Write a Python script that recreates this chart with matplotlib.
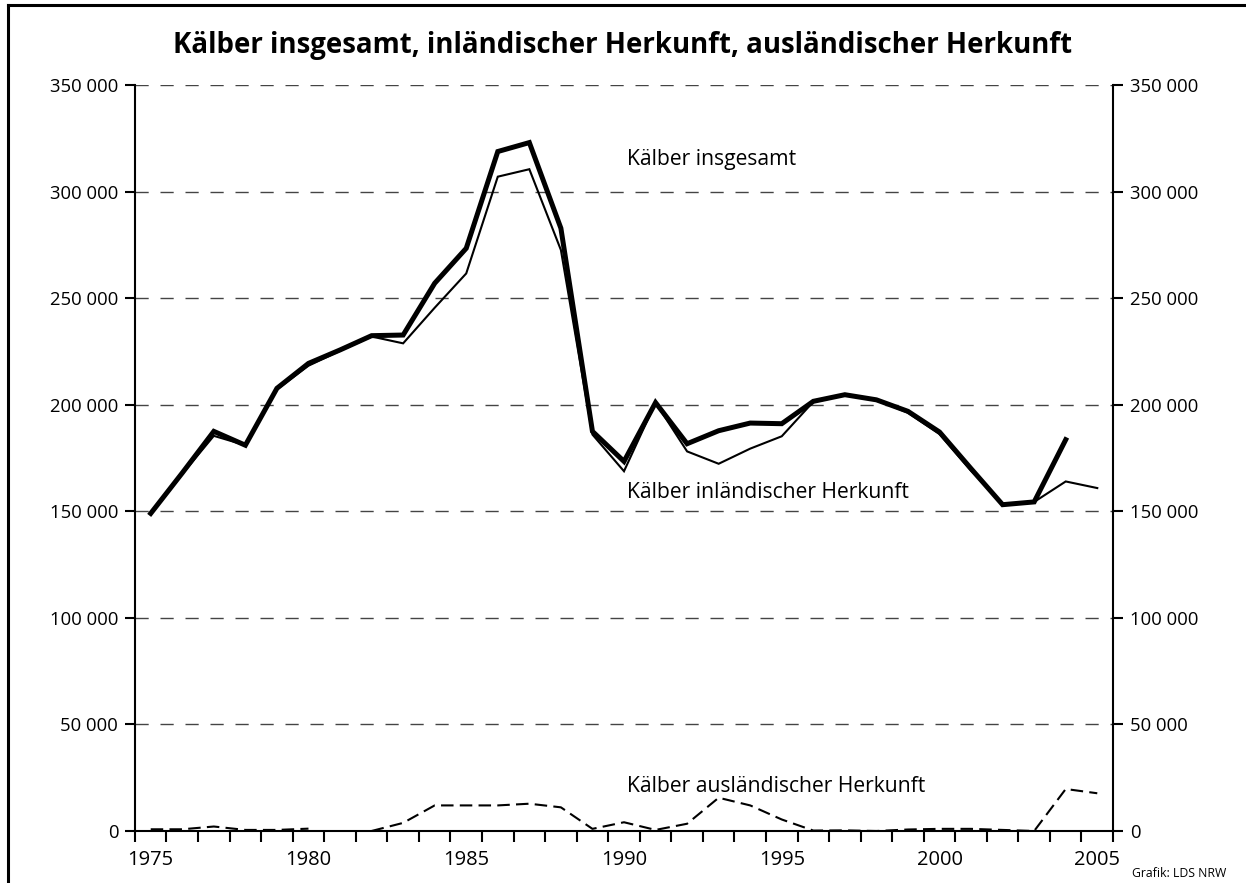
import numpy as np
import matplotlib
matplotlib.use("Agg")
import matplotlib.pyplot as plt
from matplotlib.lines import Line2D

plt.rcParams['font.family'] = ['Open Sans', 'DejaVu Sans']

years = list(range(1975, 2006))

# Kälber insgesamt (no value for 2005)
insgesamt = [149000, 168000, 187500, 181000, 207700, 219400, 225700, 232400, 232700, 257000,
             273400, 318800, 323000, 282800, 187500, 173400, 201000, 181700, 187800, 191400,
             191100, 201600, 204700, 202300, 196900, 187200, 170000, 153100, 154400, 183600,
             np.nan]

# Kälber inländischer Herkunft
inland = [148500, 167500, 185400, 181000, 207200, 218300, 225300, 232000, 228800, 245500,
          261600, 307000, 310500, 272600, 186000, 168800, 201000, 178100, 172300, 179400,
          185200, 201400, 204400, 202300, 196200, 186200, 169000, 153500, 154400, 164000,
          160900]

# Kälber ausländischer Herkunft (no value for 1981)
ausland = [800, 800, 2100, 500, 500, 1100, np.nan, 0, 3800, 12000,
           12000, 12000, 12800, 11100, 1000, 4100, 500, 3400, 15600, 12000,
           5400, 200, 300, 0, 700, 1000, 1000, 500, 0, 19700,
           17700]

yticks = list(range(0, 350001, 50000))
ytick_labels = ["0", "50 000", "100 000", "150 000", "200 000", "250 000", "300 000", "350 000"]
xlabel_years = [1975, 1980, 1985, 1990, 1995, 2000, 2005]

fig = plt.figure(figsize=(12.46, 8.83), dpi=100)
ax = fig.add_axes([0.1083, 0.0589, 0.7850, 0.8448])

ax.set_xlim(1974.5, 2005.5)
ax.set_ylim(0, 350000)

# dashed gridlines
for v in yticks[1:]:
    ax.axhline(v, color='#444444', lw=1.0, dashes=(9.5, 8.5), zorder=1)

ax.plot(years, inland, color='black', lw=1.5, zorder=3, solid_joinstyle='miter')
ax.plot(years, insgesamt, color='black', lw=3.6, zorder=4, solid_joinstyle='miter')
ax.plot(years, ausland, color='black', lw=1.5, dashes=(6, 3), zorder=3)

ax.text(1990.1, 315000, "Kälber insgesamt", fontsize=15.2, va='center', ha='left')
ax.text(1990.1, 159000, "Kälber inländischer Herkunft", fontsize=15.2, va='center', ha='left')
ax.text(1990.1, 21000, "Kälber ausländischer Herkunft", fontsize=15.2, va='center', ha='left')

# spines
ax.spines['top'].set_visible(False)
for s in ['left', 'right', 'bottom']:
    ax.spines[s].set_linewidth(1.5)
    ax.spines[s].set_zorder(5)

# y axis both sides
ax.set_yticks(yticks)
ax.set_yticklabels(ytick_labels)
ax.tick_params(axis='y', which='major', left=True, right=True, labelleft=True, labelright=True,
               direction='out', length=7, width=1.5, labelsize=13.3, pad=5)

# x axis: ticks at category borders, labels in the middle
ax.set_xticks(xlabel_years)
ax.set_xticklabels([str(y) for y in xlabel_years])
ax.set_xticks(np.arange(1974.5, 2005.6, 1.0), minor=True)
ax.tick_params(axis='x', which='major', length=0, labelsize=14.5, pad=14)
ax.tick_params(axis='x', which='minor', direction='out', length=8, width=1.5)

fig.text(0.5, 0.948, "Kälber insgesamt, inländischer Herkunft, ausländischer Herkunft",
         ha='center', va='center', fontsize=19.9, fontweight='bold')
fig.text(0.9085, 0.011, "Grafik: LDS NRW", ha='left', va='center', fontsize=8.8)

# frame around the figure (top and left visible)
fig.add_artist(Line2D([8 / 1246, 1.0], [1 - 5 / 883, 1 - 5 / 883], color='black', lw=2.2,
                      transform=fig.transFigure))
fig.add_artist(Line2D([8 / 1246, 8 / 1246], [0.0, 1 - 5 / 883], color='black', lw=2.2,
                      transform=fig.transFigure))

fig.savefig("out.png", dpi=100)
